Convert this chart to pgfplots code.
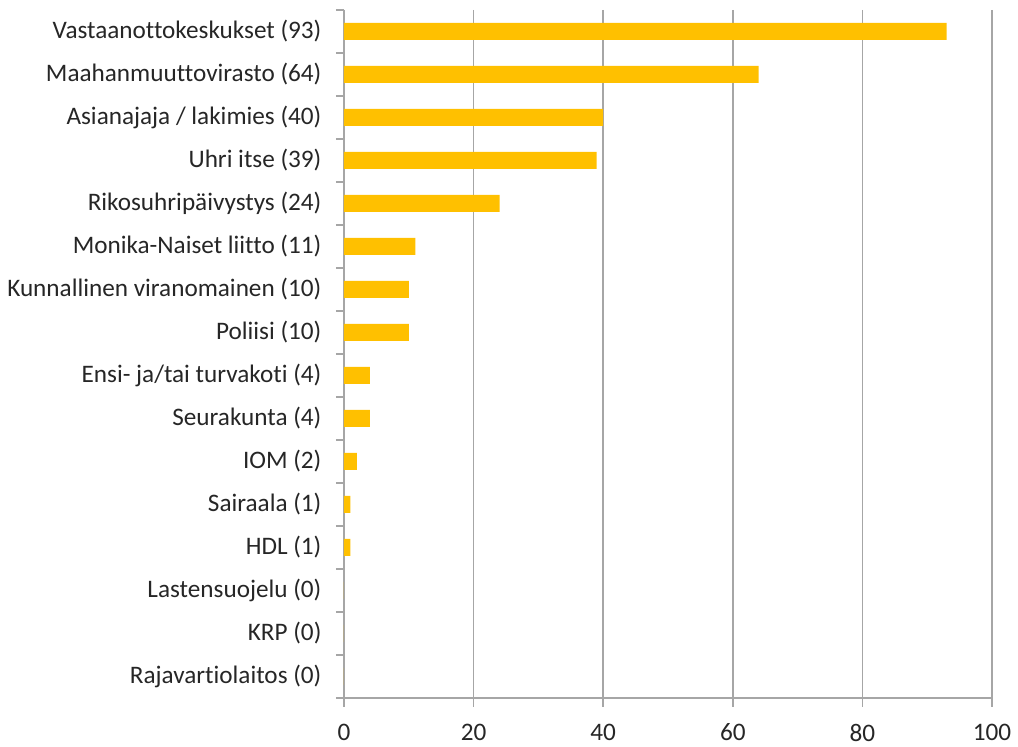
\documentclass[border=0pt]{standalone}
\usepackage{pgfplots}
\pgfplotsset{compat=1.18}
\usepackage{fontspec}
\setmainfont[Ligatures=NoCommon]{Carlito}
\definecolor{barc}{HTML}{FFC000}
\definecolor{gridc}{HTML}{A6A6A6}
\definecolor{txt}{HTML}{262626}
\begin{document}
\fontsize{12.6pt}{14pt}\selectfont
\begin{tikzpicture}
\useasboundingbox (-172pt,-24.5pt) rectangle (337pt,349pt);
\begin{axis}[
  scale only axis,
  width=324pt, height=344pt,
  xbar, bar width=8.5pt,
  xmin=0, xmax=100,
  ymin=-0.5, ymax=15.5,
  y dir=reverse,
  axis x line*=bottom,
  axis y line*=left,
  axis line style={gridc, line width=0.8pt},
  xtick={0,20,...,100},
  xmajorgrids,
  major grid style={gridc, line width=0.8pt},
  major tick length=4.5pt,
  xtick style={gridc, line width=0.8pt},
  tick align=outside,
  ytick={0,...,15},
  yticklabels={Vastaanottokeskukset (93),Maahanmuuttovirasto (64),Asianajaja / lakimies (40),Uhri itse (39),Rikosuhripäivystys (24),Monika-Naiset liitto (11),Kunnallinen viranomainen (10),Poliisi (10),Ensi- ja/tai turvakoti (4),Seurakunta (4),IOM (2),Sairaala (1),HDL (1),Lastensuojelu (0),KRP (0),Rajavartiolaitos (0)},
  ytick style={gridc, line width=0.8pt},
  every major y tick/.append style={draw=none},
  minor ytick={-0.5,0.5,...,15.5},
  minor tick length=4pt,
  yticklabel style={font=\fontsize{12.6pt}{14pt}\selectfont, text=txt, xshift=-2.4pt},
  xticklabel style={font=\fontsize{12.6pt}{14pt}\selectfont, text=txt, yshift=-4pt},
  /pgf/number format/assume math mode=true,
  clip=false,
]
\addplot[fill=barc, draw=none] coordinates {
(93,0) (64,1) (40,2) (39,3) (24,4) (11,5) (10,6) (10,7) (4,8) (4,9) (2,10) (1,11) (1,12) (0,13) (0,14) (0,15)
};
\end{axis}
\end{tikzpicture}
\end{document}
